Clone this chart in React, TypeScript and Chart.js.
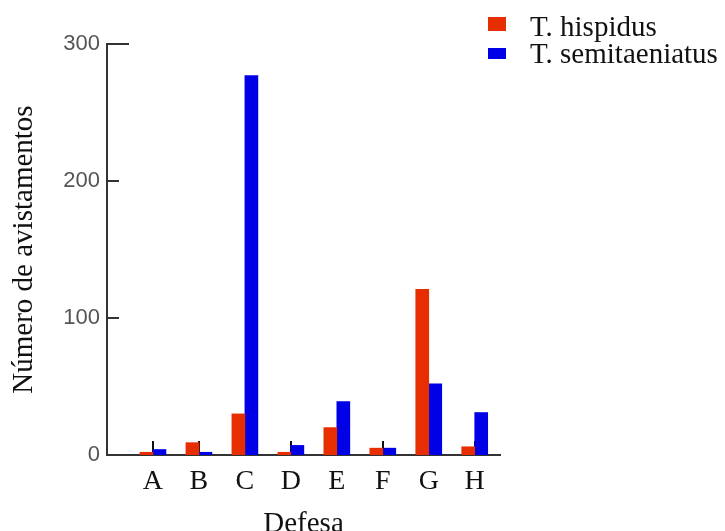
import React, { useEffect, useRef } from "react";
import { Chart, registerables } from "chart.js";

Chart.register(...registerables);

const categories = ["A", "B", "C", "D", "E", "F", "G", "H"];
const hispidus = [2, 9, 30, 2, 20, 5, 121, 6];
const semitaeniatus = [4, 2, 277, 7, 39, 5, 52, 31];
const yTicks = [0, 100, 200, 300];
const seriesNames = ["T. hispidus", "T. semitaeniatus"];
const seriesColors = ["#E62E00", "#0000E6"];

const SERIF = "'Liberation Serif', 'Times New Roman', serif";

const customTicks = {
  id: "customTicks",
  beforeDatasetsDraw(chart: any) {
    const { ctx } = chart;
    const x = chart.scales.x;
    const y = chart.scales.y;
    ctx.save();
    ctx.strokeStyle = "#111";
    ctx.lineWidth = 2;
    x.ticks.forEach((_t: any, i: number) => {
      const px = Math.round(x.getPixelForTick(i));
      ctx.beginPath();
      ctx.moveTo(px, y.bottom);
      ctx.lineTo(px, y.bottom - 14);
      ctx.stroke();
    });
    ctx.strokeStyle = "#333";
    y.ticks.forEach((t: any, i: number) => {
      if (t.value === 0) return;
      const py = Math.round(y.getPixelForTick(i));
      const len = t.value === 300 ? 22 : 12;
      ctx.beginPath();
      ctx.moveTo(x.left, py);
      ctx.lineTo(x.left + len, py);
      ctx.stroke();
    });
    ctx.restore();
  },
};

const customLegend = {
  id: "customLegend",
  afterDraw(chart: any) {
    const { ctx } = chart;
    ctx.save();
    const boxes = [
      { x: 488, y: 17, w: 18, h: 14, ty: 36 },
      { x: 488, y: 48, w: 18, h: 11, ty: 63 },
    ];
    seriesNames.forEach((name, i) => {
      const b = boxes[i];
      ctx.fillStyle = seriesColors[i];
      ctx.fillRect(b.x, b.y, b.w, b.h);
      ctx.fillStyle = "#111";
      ctx.font = "29px " + SERIF;
      ctx.textBaseline = "alphabetic";
      ctx.textAlign = "left";
      ctx.fillText(name, 530, b.ty);
    });
    ctx.restore();
  },
};

export default function App() {
  const ref = useRef<HTMLCanvasElement | null>(null);
  useEffect(() => {
    document.body.style.margin = "0";
    const canvas = ref.current!;
    const chart = new Chart(canvas, {
      type: "bar",
      data: {
        datasets: [
          {
            label: seriesNames[0],
            data: hispidus.map((v, i) => ({ x: i + 1, y: v })),
            backgroundColor: seriesColors[0],
            barThickness: 13,
          },
          {
            label: seriesNames[1],
            data: semitaeniatus.map((v, i) => ({ x: i + 1, y: v })),
            backgroundColor: seriesColors[1],
            barThickness: 13,
          },
        ],
      },
      plugins: [customTicks, customLegend],
      options: {
        animation: false,
        responsive: false,
        layout: { padding: { top: 44, right: 225, left: 0, bottom: 0 } },
        plugins: { legend: { display: false }, tooltip: { enabled: false } },
        scales: {
          x: {
            type: "linear",
            min: 0,
            max: 8.55,
            offset: false,
            grid: { display: false, drawTicks: false, offset: false },
            border: { display: true, color: "#333", width: 2 },
            afterBuildTicks: (scale: any) => {
              scale.ticks = categories.map((_c, i) => ({ value: i + 1 }));
            },
            afterFit: (scale: any) => {
              scale.height = 76;
            },
            ticks: {
              autoSkip: false,
              maxRotation: 0,
              padding: 10,
              color: "#111",
              font: { family: SERIF, size: 28 },
              callback: (v: any) => categories[Math.round(Number(v)) - 1] ?? "",
            },
            title: {
              display: true,
              text: "Defesa",
              color: "#111",
              font: { family: SERIF, size: 29, lineHeight: 1 },
              padding: { top: 0, bottom: -8 },
            },
          },
          y: {
            min: 0,
            max: 300,
            grid: { display: false, drawTicks: false },
            border: { display: true, color: "#333", width: 2 },
            afterBuildTicks: (scale: any) => {
              scale.ticks = yTicks.map((v) => ({ value: v }));
            },
            afterFit: (scale: any) => {
              scale.width = 107;
            },
            ticks: {
              padding: 7,
              color: "#555",
              font: { family: "'Liberation Sans', Arial, sans-serif", size: 22 },
            },
            title: {
              display: true,
              text: "Número de avistamentos",
              color: "#111",
              font: { family: SERIF, size: 29, lineHeight: 1 },
              padding: { top: 10, bottom: 0 },
            },
          },
        },
      },
    } as any);
    return () => chart.destroy();
  }, []);
  return (
    <div style={{ width: 725, height: 531 }}>
      <canvas ref={ref} width={725} height={531} style={{ display: "block" }} />
    </div>
  );
}
